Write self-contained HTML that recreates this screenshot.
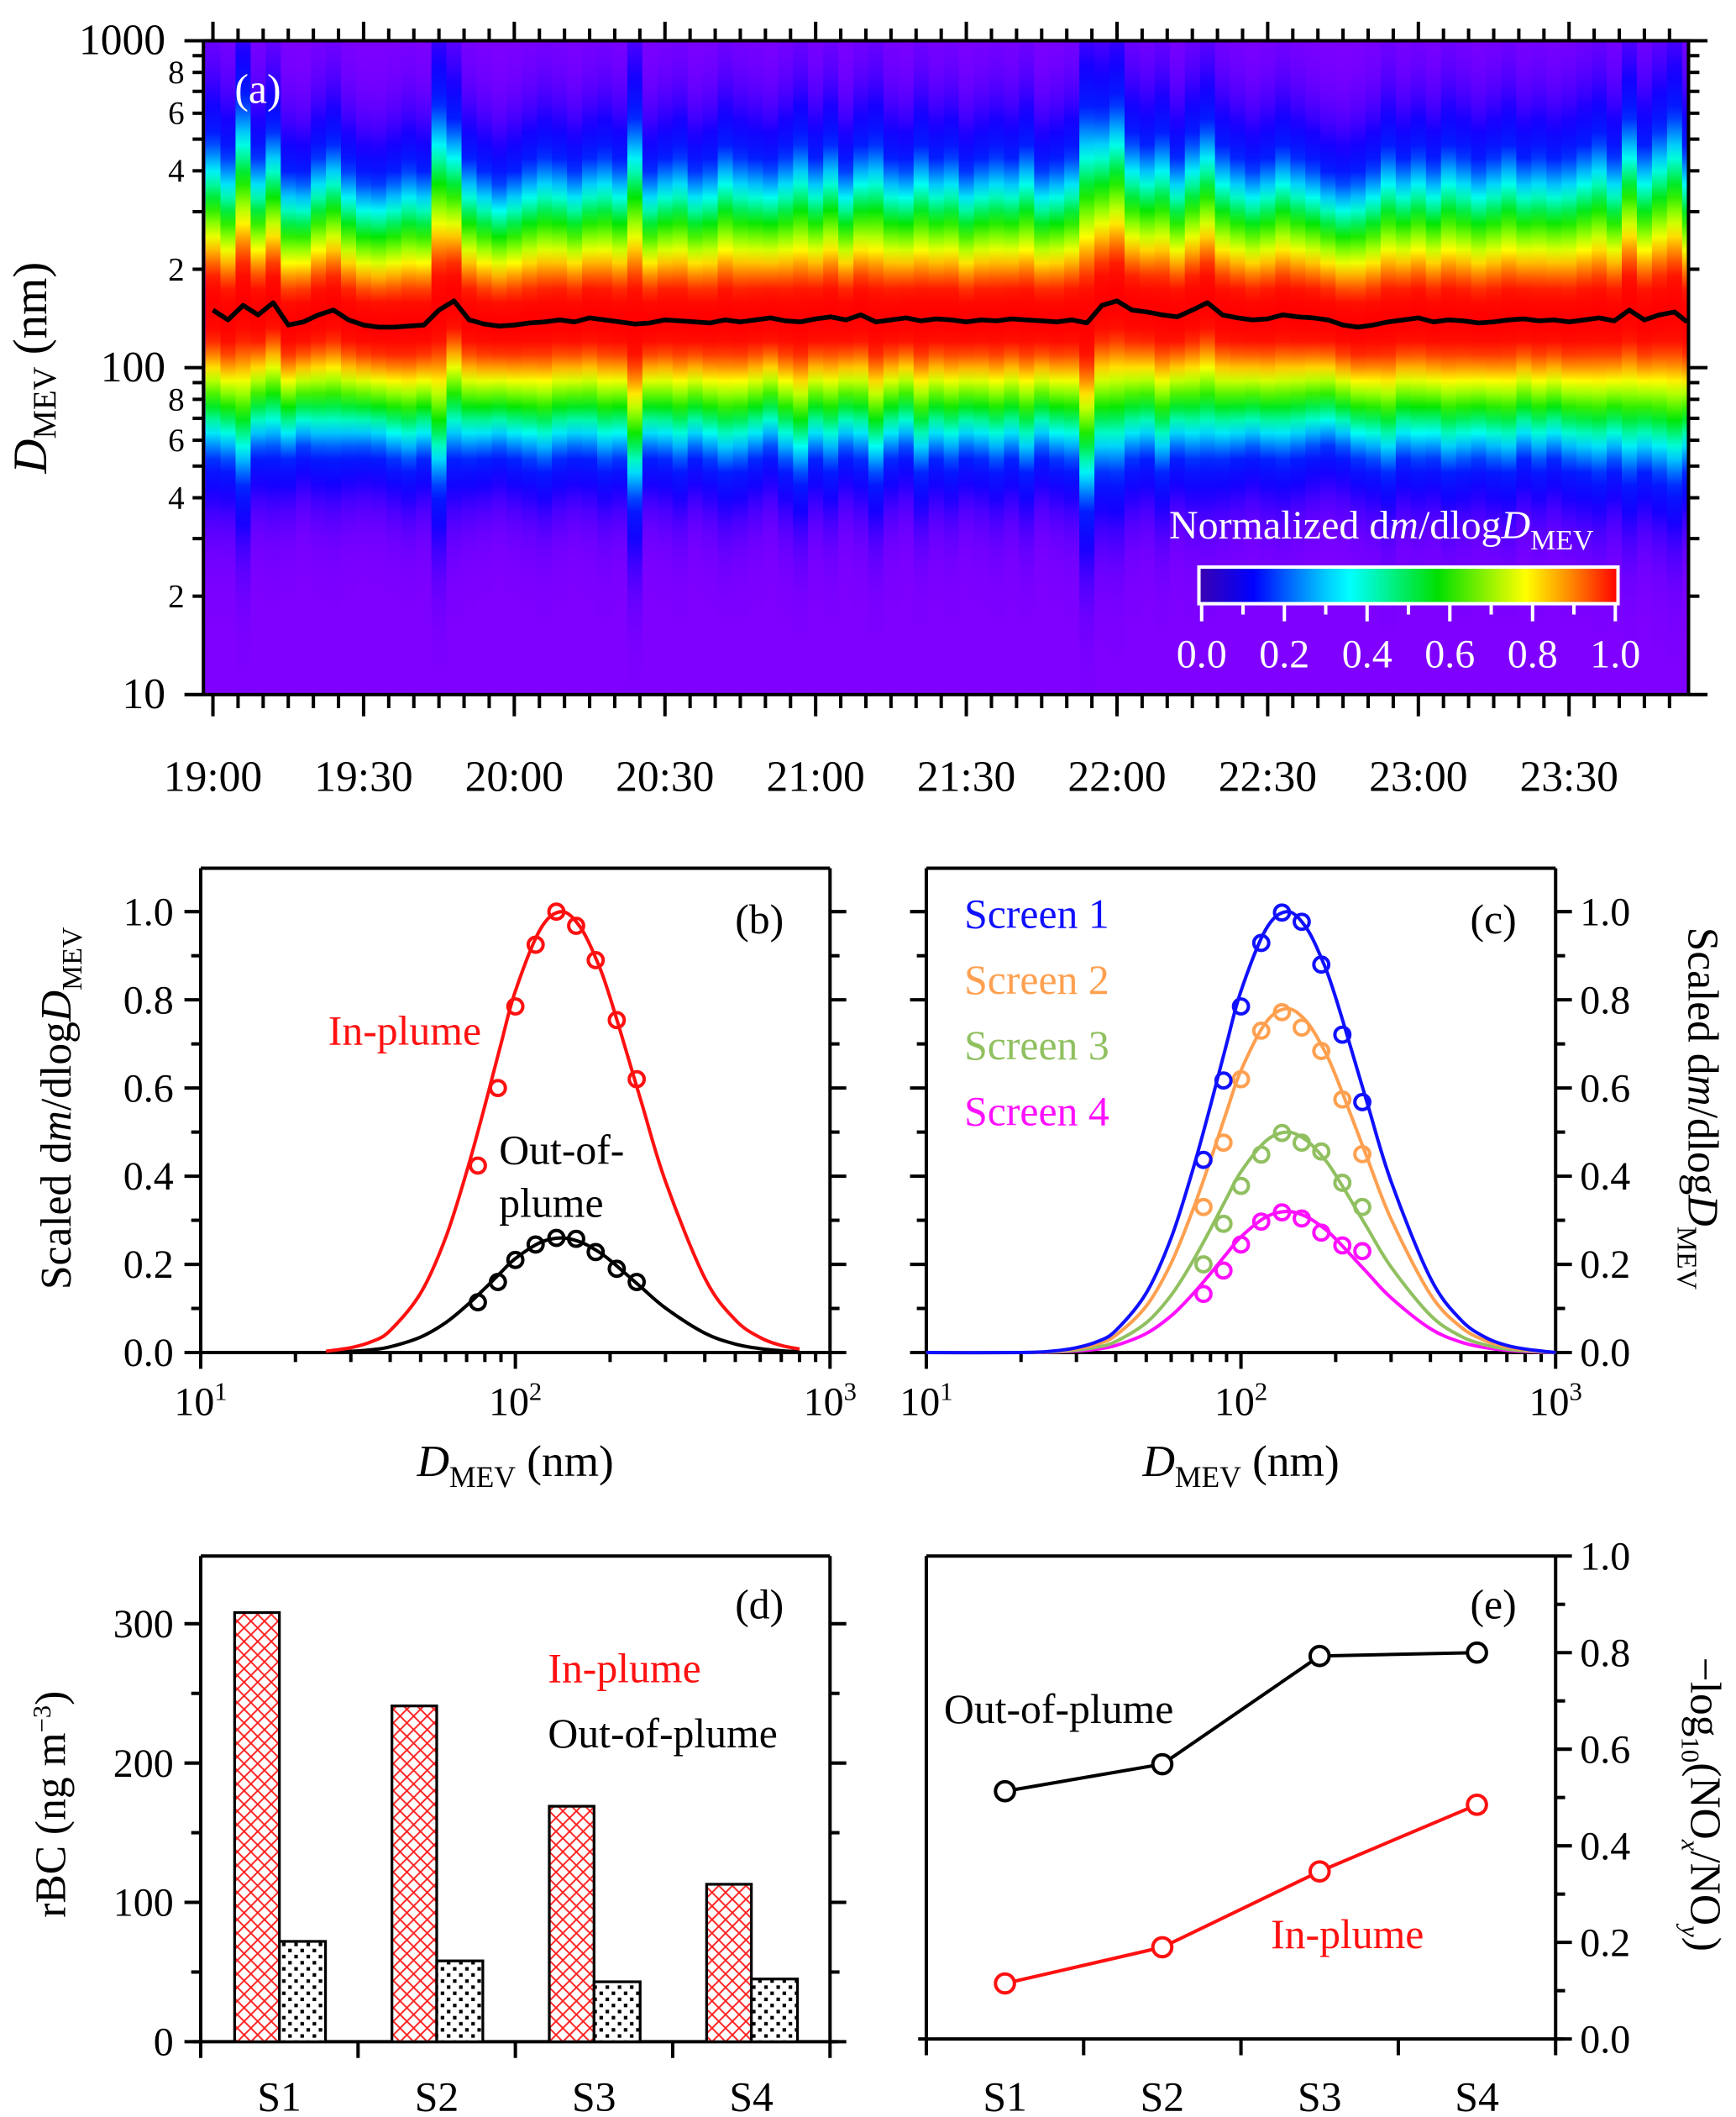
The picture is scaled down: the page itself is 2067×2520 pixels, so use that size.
<!DOCTYPE html>
<html><head><meta charset="utf-8"><style>
html,body{margin:0;padding:0;background:#fff}
svg{display:block}
svg text{font-family:"Liberation Serif","Times New Roman",serif}
</style></head><body>
<svg id="fig" xmlns="http://www.w3.org/2000/svg" width="2067" height="2520" viewBox="0 0 1280 1560.5" font-family="Liberation Serif, serif">
<defs>
<pattern id="hatchRed" patternUnits="userSpaceOnUse" width="10" height="10">
<rect width="10" height="10" fill="#fff"/>
<path d="M0,0 L10,10 M10,0 L0,10" stroke="#ff2020" stroke-width="1.2"/>
</pattern>
<pattern id="dotsBlack" patternUnits="userSpaceOnUse" width="9" height="9">
<rect width="9" height="9" fill="#fff"/>
<rect x="1" y="1" width="2.6" height="2.6" fill="#000"/>
<rect x="5.5" y="5.5" width="2.6" height="2.6" fill="#000"/>
</pattern>
<linearGradient id="cbar" x1="0" x2="1" y1="0" y2="0">
<stop offset="0" stop-color="#3a00b0"/><stop offset="0.13" stop-color="#0000ff"/>
<stop offset="0.3" stop-color="#00c8ff"/><stop offset="0.36" stop-color="#00ffff"/>
<stop offset="0.57" stop-color="#00e000"/><stop offset="0.78" stop-color="#ffff00"/>
<stop offset="0.88" stop-color="#ff9000"/><stop offset="1" stop-color="#ff0000"/>
</linearGradient>
</defs>
<g id="gA"></g>
<g id="gB"></g>
<g id="gC"></g>
<g id="gD"></g>
<g id="gE"></g>
</svg>
<script>
// ---------- data ----------
const modeD = [150,140,155,145,158,135,138,145,150,140,
135,133,133,134,135,150,160,140,136,134,
135,137,138,140,138,142,140,138,136,137,
140,139,138,137,140,138,140,142,139,138,
141,143,140,145,138,140,142,139,141,140,
138,140,139,141,140,139,138,140,137,155,
160,150,148,145,143,150,158,145,142,140,
141,145,143,142,140,135,133,135,138,140,
142,138,140,139,137,138,140,141,139,140,
138,140,142,139,150,140,145,148,138];
const spread = [0.26,0.25,0.31,0.24,0.26,0.23,0.22,0.24,0.25,0.23,
0.22,0.22,0.23,0.24,0.23,0.31,0.27,0.24,0.23,0.22,
0.23,0.24,0.25,0.24,0.23,0.24,0.25,0.24,0.31,0.23,
0.24,0.25,0.23,0.24,0.26,0.25,0.24,0.23,0.25,0.27,
0.24,0.26,0.23,0.25,0.27,0.24,0.23,0.26,0.24,0.25,
0.23,0.24,0.25,0.24,0.26,0.23,0.24,0.25,0.32,0.29,
0.30,0.26,0.25,0.27,0.24,0.26,0.27,0.25,0.24,0.23,
0.24,0.25,0.24,0.23,0.22,0.22,0.23,0.24,0.26,0.24,
0.25,0.24,0.26,0.25,0.24,0.25,0.26,0.24,0.25,0.24,
0.25,0.26,0.27,0.25,0.29,0.26,0.28,0.30,0.26];
const timeLabels = ["19:00","19:30","20:00","20:30","21:00","21:30","22:00","22:30","23:00","23:30"];
const cbarLabels = ["0.0","0.2","0.4","0.6","0.8","1.0"];
const curveD = [10,20,25,30,35,40,50,60,70,80,90,100,120,140,160,180,200,250,300,400,500,600,700,800,1000];
const curveShape = [0,0,0.003,0.011,0.025,0.05,0.135,0.26,0.41,0.56,0.70,0.82,0.96,1.0,0.967,0.895,0.805,0.574,0.388,0.169,0.074,0.034,0.016,0.008,0];
const markerD = [76,88,100,116,135,156,180,210,243];
const inPlumePts = [0.424,0.60,0.785,0.925,1.0,0.968,0.89,0.754,0.62];
const outPlumePts = [0.114,0.16,0.21,0.245,0.26,0.258,0.228,0.19,0.16];
const bPeaks = [1.0,0.26];
const screenPeaks = [1.0,0.78,0.50,0.32];
const screen1Pts = [0.437,0.617,0.785,0.929,0.998,0.977,0.88,0.721,0.568];
const screen2Pts = [0.33,0.476,0.62,0.73,0.772,0.737,0.684,0.574,0.45];
const screen3Pts = [0.20,0.292,0.378,0.449,0.498,0.476,0.456,0.385,0.33];
const screen4Pts = [0.133,0.186,0.245,0.297,0.318,0.304,0.272,0.243,0.23];
const sites = ["S1","S2","S3","S4"];
const rbcIn = [308,241,169,113];
const rbcOut = [72,58,43,45];
const noxOut = [0.513,0.569,0.793,0.80];
const noxIn = [0.115,0.19,0.347,0.485];

// ---------- helpers ----------
const NS="http://www.w3.org/2000/svg";
const FS=1.1;
function mk(parent,tag,attrs){const e=document.createElementNS(NS,tag);for(const k in attrs)e.setAttribute(k,attrs[k]);parent.appendChild(e);return e;}
function ln(p,x1,y1,x2,y2,c,w){return mk(p,"line",{x1,y1,x2,y2,stroke:c||"#000","stroke-width":w||2});}
function tx(p,x,y,s,size,anchor,fill){const e=mk(p,"text",{x,y,"font-size":(size||26)*FS,"text-anchor":anchor||"start",fill:fill||"#000","font-family":"Liberation Serif, serif"});e.innerHTML=s;return e;}
const L10=Math.log10;
function smoothPath(P){let d="M"+P[0][0]+","+P[0][1];
 for(let i=0;i<P.length-1;i++){const p0=P[Math.max(0,i-1)],p1=P[i],p2=P[i+1],p3=P[Math.min(P.length-1,i+2)];
  const c1x=p1[0]+(p2[0]-p0[0])/6,c1y=p1[1]+(p2[1]-p0[1])/6,c2x=p2[0]-(p3[0]-p1[0])/6,c2y=p2[1]-(p3[1]-p1[1])/6;
  d+=" C"+c1x+","+c1y+" "+c2x+","+c2y+" "+p2[0]+","+p2[1];}
 return d;}

// ---------- panel a ----------
(function(){
const g=document.getElementById("gA");
const l=150,r=1245,t=30,b=512;
const xA=m=>157+m*111.1/30;
const yA=D=>30+(3-L10(D))*241;
const cm=[[0,[127,0,255]],[0.1,[20,0,255]],[0.2,[0,30,255]],[0.3,[0,170,255]],[0.37,[0,255,245]],[0.55,[0,230,0]],[0.68,[150,255,0]],[0.77,[255,255,0]],[0.87,[255,130,0]],[0.95,[255,20,0]],[1,[255,0,0]]];
function cmap(v){for(let i=1;i<cm.length;i++){if(v<=cm[i][0]){const a=cm[i-1],c=cm[i],f=(v-a[0])/(c[0]-a[0]);return "rgb("+a[1].map((q,j)=>Math.round(q+(c[1][j]-q)*f)).join(",")+")";}}return "rgb(255,0,0)";}
const bg=mk(g,"rect",{x:l,y:t,width:r-l,height:b-t,fill:"#7f00ff"});


const defs=document.querySelector("defs");
const cols=mk(g,"g",{});


modeD.forEach((md,i)=>{
  const m=i*3;let x0=Math.max(l,xA(m-1.5)),x1=Math.min(r,xA(m+1.5));
  if(i===modeD.length-1)x1=r;
  const gid="hg"+i;
  const gr=mk(defs,"linearGradient",{id:gid,gradientUnits:"userSpaceOnUse",x1:0,x2:0,y1:t,y2:b});
  const s=spread[i];
  for(let k=0;k<=50;k++){
    const lg=3-2*k/50;const d=lg-L10(md);const sg=d>0?s*1.14:s*1.0;
    const v=Math.exp(-d*d/(2*sg*sg));
    mk(gr,"stop",{offset:k/50,"stop-color":cmap(v)});
  }
  const rc=mk(cols,"rect",{x:x0,y:t,width:x1-x0+0.6,height:b-t,fill:"url(#"+gid+")"});
  
  
});
const pts=modeD.map((md,i)=>xA(Math.min(i*3,293.5))+","+yA(md)).join(" ");
const pl=mk(g,"polyline",{points:pts,fill:"none",stroke:"#000","stroke-width":3.5,"stroke-linejoin":"round"});


mk(g,"rect",{x:l,y:t,width:r-l,height:b-t,fill:"none",stroke:"#000","stroke-width":2.5});
for(let m=0;m<=290;m+=5){const x=xA(m);const maj=m%30===0;
 ln(g,x,t,x,t-(maj?14:9),"#000",2.5);ln(g,x,b,x,b+(maj?16:10),"#000",2.5);}
timeLabels.forEach((s,i)=>{const e=tx(g,xA(i*30),583,s,29,"middle");});
for(let dec=10;dec<=1000;dec*=10){const y=yA(dec);ln(g,l,y,l-14,y,"#000",2.5);ln(g,r,y,r+14,y,"#000",2.5);
 const e=tx(g,122,y+10,String(dec),29,"end");
 if(dec<1000)for(let k=2;k<=9;k++){const yy=yA(dec*k);ln(g,l,yy,l-8,yy,"#000",2.5);ln(g,r,yy,r+8,yy,"#000",2.5);
  if(k%2===0){const e2=tx(g,136,yy+8,String(k),22,"end");}}}
const yl=tx(g,0,0,'<tspan font-style="italic">D</tspan><tspan font-size="24" dy="7">MEV</tspan><tspan dy="-7"> (nm)</tspan>',32,"middle");
yl.setAttribute("transform","translate(34,271) rotate(-90)");

const pa=tx(g,173,76,"(a)",28,"start","#fff");
const ct=tx(g,862,397,'Normalized d<tspan font-style="italic">m</tspan>/dlog<tspan font-style="italic">D</tspan><tspan font-size="21" dy="8">MEV</tspan>',27,"start","#fff");

const cb=mk(g,"rect",{x:884,y:418,width:309,height:27,fill:"url(#cbar)",stroke:"#fff","stroke-width":2.5});

for(let k=0;k<=10;k++){const x=886+k*30.5;ln(g,x,446,x,k%2===0?458:453,"#fff",2.5);}
cbarLabels.forEach((s,i)=>{const e=tx(g,886+i*61,492,s,27,"middle","#fff");});
})();

// ---------- panels b, c ----------
function sizePanel(g,l,r,rightLabels,cfg){
 const t=640,b=997;
 const xS=D=>l+(L10(D)-1)*232, yS=v=>b-v*325;
 ln(g,l,t,r,t,"#000",2.5);ln(g,l,t,l,b,"#000",2.5);ln(g,r,t,r,b,"#000",2.5);ln(g,l,b,r,b,"#000",2.5);
 for(let k=0;k<=10;k++){const y=yS(k/10);const len=k%2===0?12:7;ln(g,l,y,l-len,y,"#000",2.5);ln(g,r,y,r+len,y,"#000",2.5);
  if(k%2===0){const s=(k/10).toFixed(1);const e=rightLabels?tx(g,r+18,y+10,s,27,"start"):tx(g,l-20,y+10,s,27,"end");}}
 for(let dec=10;dec<=1000;dec*=10){const x=xS(dec);ln(g,x,b,x,b+12,"#000",2.5);
  const e=tx(g,x,1043,'10<tspan font-size="19" dy="-11">'+L10(dec)+'</tspan>',27,"middle");
  if(dec<1000)for(let k=2;k<=9;k++){const xx=xS(dec*k);ln(g,xx,b,xx,b+7,"#000",2.5);}}
 const xl=tx(g,l+232,1088,'<tspan font-style="italic">D</tspan><tspan font-size="22" dy="8">MEV</tspan><tspan dy="-8"> (nm)</tspan>',30,"middle");
 
 const yl=tx(g,0,0,'Scaled d<tspan font-style="italic">m</tspan>/dlog<tspan font-style="italic">D</tspan><tspan font-size="21" dy="8">MEV</tspan>',29,"middle");
 yl.setAttribute("transform",rightLabels?"translate(1245,817) rotate(90)":"translate(52,817) rotate(-90)");
 
 cfg.forEach(c=>{
  const P=[];curveD.forEach((D,i)=>{if(c.full||(D>=25&&D<=800))P.push([xS(D),yS(curveShape[i]*c.peak)]);});
  const pl=mk(g,"path",{d:smoothPath(P),fill:"none",stroke:c.color,"stroke-width":2.5,"stroke-linejoin":"round"});
  
  
  c.pts.forEach((v,i)=>{const ci=mk(g,"circle",{cx:xS(markerD[i]),cy:yS(v),r:5.5,fill:"none",stroke:c.color,"stroke-width":2.5});
   
   });
 });
}
(function(){
const g=document.getElementById("gB");
sizePanel(g,148,612,false,[
 {name:"out-of-plume",color:"#000",peak:bPeaks[1],pts:outPlumePts,full:false},
 {name:"in-plume",color:"#ff1010",peak:bPeaks[0],pts:inPlumePts,full:false}]);
let e=tx(g,542,688,"(b)",28);
e=tx(g,242,770,"In-plume",28,"start","#ff1010");
e=tx(g,368,858,"Out-of-",28);
e=tx(g,368,897,"plume",28);
})();
(function(){
const g=document.getElementById("gC");
const cols=["#1010ff","#ffa050","#90c060","#ff10ff"];
const pts=[screen1Pts,screen2Pts,screen3Pts,screen4Pts];
const cfg=[3,2,1,0].map(i=>({name:"screen-"+(i+1),color:cols[i],peak:screenPeaks[i],pts:pts[i],full:true}));
sizePanel(g,683,1147,true,cfg);
let e=tx(g,1084,688,"(c)",28);
for(let i=0;i<4;i++){e=tx(g,711,684+i*48.5,"Screen "+(i+1),28,"start",cols[i]);}
})();

// ---------- panel d ----------
(function(){
const g=document.getElementById("gD");
const l=148,r=612,t=1147,b=1505;
const yD=v=>b-v*1.027, cx=i=>l+58+116*i;
ln(g,l,t,r,t,"#000",2.5);ln(g,l,t,l,b,"#000",2.5);ln(g,r,t,r,b,"#000",2.5);ln(g,l-6,b,r+6,b,"#000",2.5);
for(let v=0;v<=300;v+=50){const y=yD(v);const len=v%100===0?12:7;ln(g,l,y,l-len,y,"#000",2.5);ln(g,r,y,r+len,y,"#000",2.5);
 if(v%100===0){const e=tx(g,l-20,y+10,String(v),27,"end");}}
for(let i=0;i<=4;i++){const x=l+116*i;ln(g,x,b,x,b+12,"#000",2.5);}
sites.forEach((s,i)=>{
 const a=mk(g,"rect",{x:cx(i)-33,y:yD(rbcIn[i]),width:33,height:b-yD(rbcIn[i]),fill:"url(#hatchRed)",stroke:"#000","stroke-width":2});
 
 
 const c=mk(g,"rect",{x:cx(i),y:yD(rbcOut[i]),width:34,height:b-yD(rbcOut[i]),fill:"url(#dotsBlack)",stroke:"#000","stroke-width":2});
 
 
 const e=tx(g,cx(i),1556,s,28,"middle");
});
let e=tx(g,542,1193,"(d)",28);
e=tx(g,404,1240,"In-plume",28,"start","#ff1010");
e=tx(g,404,1288,"Out-of-plume",28);
const yl=tx(g,0,0,'rBC (ng m<tspan font-size="19" dy="-11">−3</tspan><tspan dy="11">)</tspan>',29,"middle");
yl.setAttribute("transform","translate(48,1330) rotate(-90)");

})();

// ---------- panel e ----------
(function(){
const g=document.getElementById("gE");
const l=683,r=1147,t=1147,b=1503;
const yE=v=>b-v*356, cx=i=>l+58+116*i;
ln(g,l,t,r,t,"#000",2.5);ln(g,l,t,l,b,"#000",2.5);ln(g,r,t,r,b,"#000",2.5);ln(g,l-6,b,r+6,b,"#000",2.5);
for(let k=0;k<=10;k++){const y=yE(k/10);const len=k%2===0?12:7;ln(g,r,y,r+len,y,"#000",2.5);
 if(k%2===0){const e=tx(g,r+18,y+10,(k/10).toFixed(1),27,"start");}}
for(let i=0;i<=4;i++){const x=l+116*i;ln(g,x,b,x,b+12,"#000",2.5);}
[[noxOut,"#000","out-of-plume"],[noxIn,"#ff1010","in-plume"]].forEach(([arr,c,n])=>{
 const pl=mk(g,"polyline",{points:arr.map((v,i)=>cx(i)+","+yE(v)).join(" "),fill:"none",stroke:c,"stroke-width":2.5});
 
 
 arr.forEach((v,i)=>{const ci=mk(g,"circle",{cx:cx(i),cy:yE(v),r:7,fill:"#fff",stroke:c,"stroke-width":2.5});
  
  });
});
sites.forEach((s,i)=>{const e=tx(g,cx(i),1556,s,28,"middle");});
let e=tx(g,1084,1193,"(e)",28);
e=tx(g,696,1270,"Out-of-plume",28);
e=tx(g,937,1436,"In-plume",28,"start","#ff1010");
const yl=tx(g,0,0,'−log<tspan font-size="19" dy="7">10</tspan><tspan dy="-7">(NO</tspan><tspan font-size="19" dy="7" font-style="italic">x</tspan><tspan dy="-7">/NO</tspan><tspan font-size="19" dy="7" font-style="italic">y</tspan><tspan dy="-7">)</tspan>',29,"middle");
yl.setAttribute("transform","translate(1247,1330) rotate(90)");

})();
</script>
</body></html>
